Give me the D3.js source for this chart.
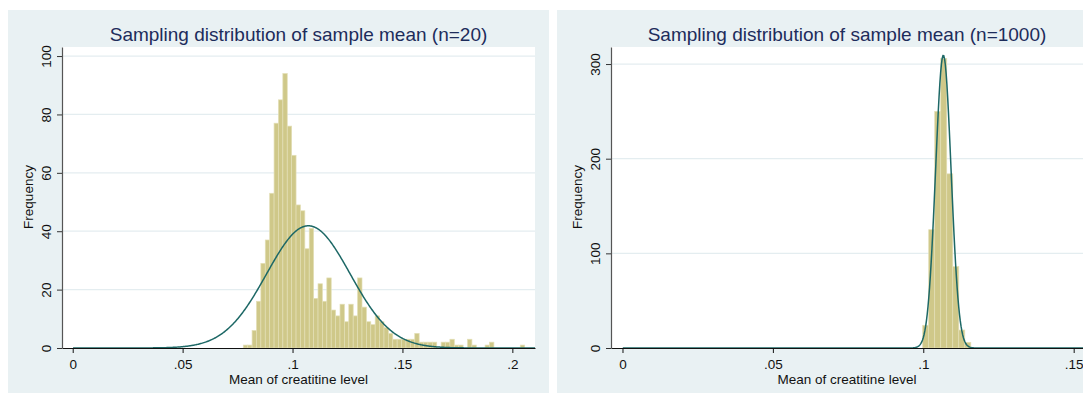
<!DOCTYPE html>
<html>
<head>
<meta charset="utf-8">
<script src="https://cdn.jsdelivr.net/npm/d3@7"></script>
<style>
  body { margin: 0; background: #ffffff; }
  svg { display: block; font-family: "Liberation Sans", Arial, sans-serif; }
  .domain { stroke-width: 1.2; }
</style>
</head>
<body>
<svg id="chart" width="1083" height="394"></svg>
<script>
// ---- data ----
var binWidth = 0.002;

// n = 20 : 64 bins starting at .0776
var n20Start = 0.0776;
var n20Counts = [1, 1, 6, 16, 29, 37, 53, 77, 85, 94,
                 76, 66, 49, 47, 34, 41, 17, 22, 16, 24,
                 13, 11, 15, 9, 15, 11, 24, 14, 9, 8,
                 11, 9, 7, 5, 3, 3, 3, 3, 3, 5,
                 2, 2, 2, 2, 0, 2, 2, 3, 1, 1,
                 0, 3, 1, 0, 0, 1, 2, 0, 0, 0,
                 0, 0, 0, 1];
var n20Mean = 0.1072, n20Sd = 0.0190;

// n = 1000 : 8 bins starting at .0998
var n1000Start = 0.0998;
var n1000Counts = [24, 125, 250, 306, 184, 86, 19, 6];
var n1000Mean = 0.10667, n1000Sd = 0.00258;

var n20XTicks = [0, 0.05, 0.1, 0.15, 0.2];
var n20XLabels = ["0", ".05", ".1", ".15", ".2"];
var n20YTicks = [0, 20, 40, 60, 80, 100];

var n1000XTicks = [0, 0.05, 0.1, 0.15];
var n1000XLabels = ["0", ".05", ".1", ".15"];
var n1000YTicks = [0, 100, 200, 300];

var titles = ["Sampling distribution of sample mean (n=20)",
              "Sampling distribution of sample mean (n=1000)"];
var xTitle = "Mean of creatitine level";
var yTitle = "Frequency";

// ---- layout ----
var panels = [
	{ title: titles[0], start: n20Start, counts: n20Counts, mean: n20Mean, sd: n20Sd,
	  xTicks: n20XTicks, xLabels: n20XLabels, yTicks: n20YTicks,
	  box: [8, 10, 541, 383], plot: [62, 535, 47, 348],
	  xDomain: [-0.00487, 0.2103], yDomain: [0, 103.1] },
	{ title: titles[1], start: n1000Start, counts: n1000Counts, mean: n1000Mean, sd: n1000Sd,
	  xTicks: n1000XTicks, xLabels: n1000XLabels, yTicks: n1000YTicks,
	  box: [557, 10, 530, 383], plot: [611, 1083, 47, 348],
	  xDomain: [-0.00382, 0.1531], yDomain: [0, 318] }
];

var svg = d3.select("#chart");

function drawPanel(p) {
	var g = svg.append("g");
	var x0 = p.plot[0], x1 = p.plot[1], yTop = p.plot[2], yBot = p.plot[3];

	g.append("rect")
		.attr("x", p.box[0]).attr("y", p.box[1])
		.attr("width", p.box[2]).attr("height", p.box[3])
		.attr("fill", "#e9f1f3");

	g.append("rect")
		.attr("x", x0).attr("y", yTop)
		.attr("width", x1 - x0).attr("height", yBot - yTop)
		.attr("fill", "#ffffff");

	var x_scale = d3.scaleLinear().domain(p.xDomain).range([x0, x1]);
	var y_scale = d3.scaleLinear().domain(p.yDomain).range([yBot, yTop]);

	// gridlines
	g.selectAll(".grid")
		.data(p.yTicks.filter(function(d){ return d > 0; }))
		.enter().append("line")
		.attr("x1", x0).attr("x2", x1)
		.attr("y1", function(d){ return y_scale(d); })
		.attr("y2", function(d){ return y_scale(d); })
		.attr("stroke", "#e4edf0")
		.attr("stroke-width", 1.3);

	// bars
	var bins = p.counts.map(function(c, i) {
		return { lo: p.start + i*binWidth, hi: p.start + (i+1)*binWidth, n: c };
	}).filter(function(b){ return b.n > 0; });

	g.selectAll(".bar")
		.data(bins)
		.enter().append("rect")
		.attr("x", function(d){ return x_scale(d.lo); })
		.attr("width", function(d){ return x_scale(d.hi) - x_scale(d.lo); })
		.attr("y", function(d){ return y_scale(d.n); })
		.attr("height", function(d){ return y_scale(0) - y_scale(d.n); })
		.attr("fill", "#cfc889")
		.attr("stroke", "#e3dfb6")
		.attr("stroke-width", 0.7);

	// normal density scaled to frequency
	var total = d3.sum(p.counts);
	var xs = d3.range(0, 601).map(function(i){ return p.xDomain[0] + (p.xDomain[1]-p.xDomain[0])*i/600; });
	var line = d3.line()
		.x(function(d){ return x_scale(d); })
		.y(function(d){
			var z = (d - p.mean)/p.sd;
			return y_scale(total*binWidth*Math.exp(-0.5*z*z)/(p.sd*Math.sqrt(2*Math.PI)));
		});
	g.append("path")
		.attr("d", line(xs.filter(function(d){ return d >= 0; })))
		.attr("fill", "none")
		.attr("stroke", "#1d6866")
		.attr("stroke-width", 1.5);

	// axes
	var xAxis = d3.axisBottom(x_scale)
		.tickValues(p.xTicks)
		.tickFormat(function(d, i){ return p.xLabels[i]; })
		.tickSize(5).tickSizeOuter(0).tickPadding(6.5);
	var gx = g.append("g").attr("transform", "translate(0," + yBot + ")").call(xAxis);
	gx.select(".domain").attr("stroke", "#111");
	gx.selectAll(".tick line").attr("stroke", "#111");
	gx.selectAll("text").attr("font-size", 13.5).attr("fill", "#111")
		.attr("font-family", "Liberation Sans, Arial, sans-serif");

	var yAxis = d3.axisLeft(y_scale)
		.tickValues(p.yTicks)
		.tickSize(5).tickSizeOuter(0);
	var gy = g.append("g").attr("transform", "translate(" + x0 + ",0)").call(yAxis);
	gy.select(".domain").attr("stroke", "#555");
	gy.selectAll(".tick line").attr("stroke", "#333");
	gy.selectAll("text")
		.attr("x", null).attr("dy", null)
		.attr("transform", "translate(-11,0) rotate(-90)")
		.attr("text-anchor", "middle")
		.attr("font-size", 13.5).attr("fill", "#111")
		.attr("font-family", "Liberation Sans, Arial, sans-serif");

	// titles
	var cx = (x0 + x1)/2;
	g.append("text")
		.attr("x", cx).attr("y", 41)
		.attr("text-anchor", "middle")
		.attr("font-size", 19)
		.attr("fill", "#1d2c5b")
		.text(p.title);

	g.append("text")
		.attr("x", cx).attr("y", 384)
		.attr("text-anchor", "middle")
		.attr("font-size", 13.5)
		.attr("fill", "#111")
		.text(xTitle);

	g.append("text")
		.attr("transform", "translate(" + (x0 - 29) + ",197) rotate(-90)")
		.attr("text-anchor", "middle")
		.attr("font-size", 13.5)
		.attr("fill", "#111")
		.text(yTitle);
}

panels.forEach(drawPanel);
</script>
</body>
</html>
